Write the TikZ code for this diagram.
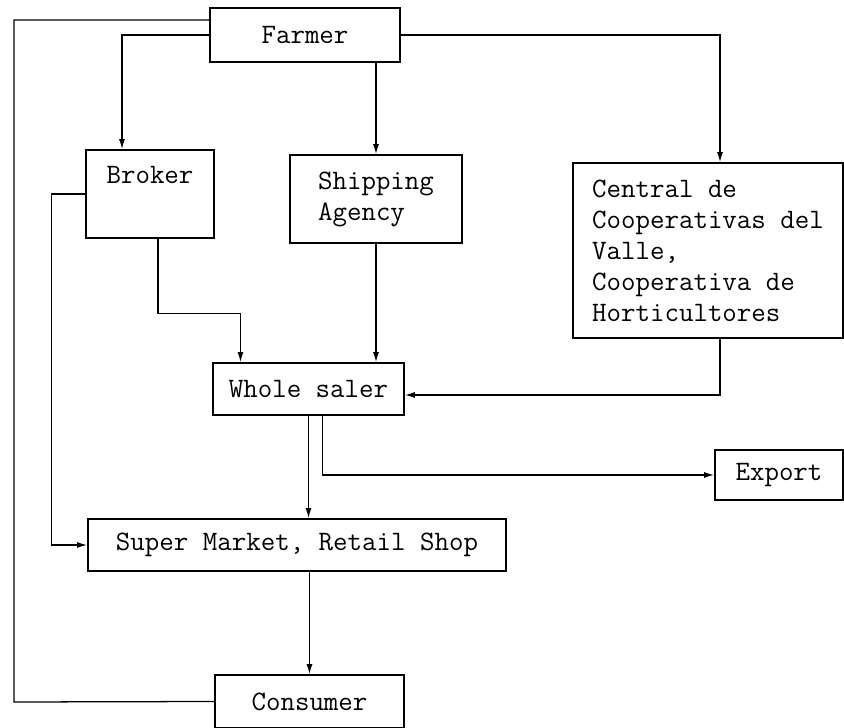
\documentclass[tikz,border=0pt]{standalone}
\usepackage{fontspec}
\usetikzlibrary{positioning,arrows.meta}
\begin{document}
\begin{tikzpicture}[x=0.025cm,y=-0.025cm,>={Latex[length=2.5mm,width=1.5mm]},line width=0.9pt,
        font=\ttfamily\fontsize{20}{22}\selectfont,
        box/.style={draw,line width=1.2pt,inner sep=0pt}]
        \useasboundingbox (0,0) rectangle (844,728);
        \node[box,minimum width=4.75cm,minimum height=1.35cm] (farmer) at (305,35) {Farmer};
        \node[box,minimum width=3.2cm,minimum height=2.2cm,align=center] (broker) at (150,194) {Broker\\\phantom{Agency}};
        \node[box,minimum width=4.3cm,minimum height=2.2cm,align=left] (shipping) at (376,199) {Shipping\\Agency};
        \node[box,minimum width=6.75cm,minimum height=4.375cm,align=left] (central) at (708,250.5) {Central de\\Cooperativas del\\Valle,\\Cooperativa de\\Horticultores};
        \node[box,minimum width=4.775cm,minimum height=1.3cm] (wholesaler) at (308.5,389) {Whole saler};
        \node[box,minimum width=3.2cm,minimum height=1.25cm] (export) at (779,475) {Export};
        \node[box,minimum width=10.45cm,minimum height=1.3cm] (market) at (297,545) {Super Market, Retail Shop};
        \node[box,minimum width=4.725cm,minimum height=1.325cm] (consumer) at (309.5,701.5) {Consumer};
        \draw ([yshift=0.375cm]farmer.west) -| (14,702) -- (consumer.west);
        \draw[->] (farmer.west) -| ([xshift=-0.7cm]broker.north);
        \draw[->] (farmer.south -| shipping.north) -- (shipping.north);
        \draw[->] (farmer.east) -| ([xshift=0.3cm]central.north);
        \draw[->] ([xshift=0.2cm]broker.south) -- ++(0,75) -| ([xshift=-1.7cm]wholesaler.north);
        \draw[->] (shipping.south) -- (shipping.south |- wholesaler.north);
        \draw[->] ([xshift=0.3cm]central.south) |- ([yshift=-0.15cm]wholesaler.east);
        \draw[->] (broker.west) -- ++(-34,0) |- (market.west);
        \draw[->] (wholesaler.south) -- (wholesaler.south |- market.north);
        \draw[->] ([xshift=0.35cm]wholesaler.south) |- (export.west);
        \draw[->] (market.south -| consumer.north) -- (consumer.north);
    \end{tikzpicture}
\end{document}
